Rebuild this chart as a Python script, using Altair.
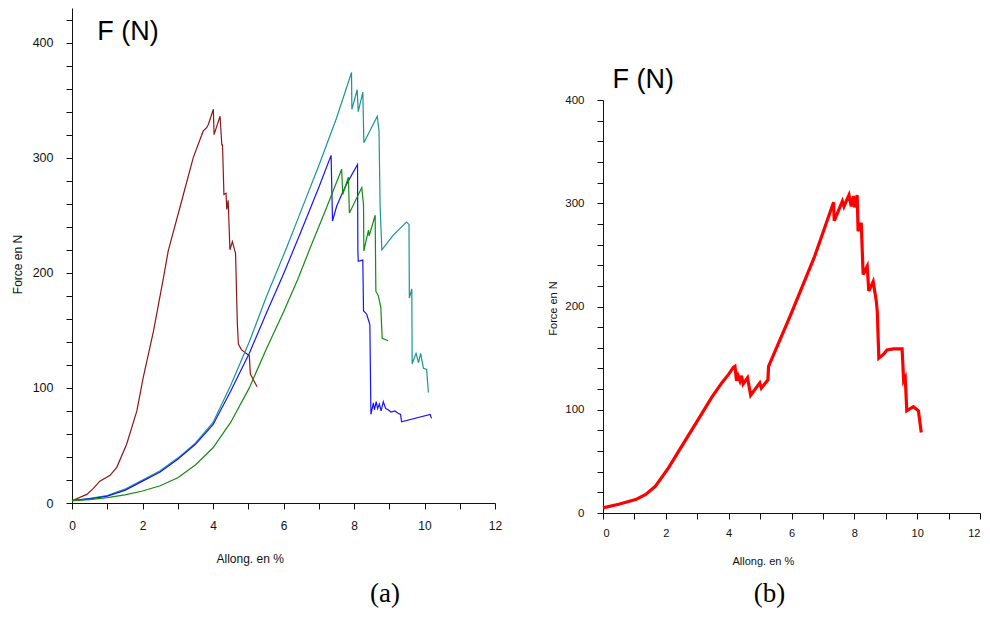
import altair as alt
import pandas as pd

SANS = "Liberation Sans"
SERIF = "Liberation Serif"
INK = "#111111"

# ---------------- panel (a): four specimens ----------------
A1_X = [0, 0.42, 0.6, 0.79, 1.08, 1.27, 1.55, 1.84, 2.02, 2.31, 2.59, 2.73, 3.16, 3.44, 3.72, 3.82, 3.87, 4.01, 4.03, 4.2,
        4.25, 4.27, 4.31, 4.37, 4.39, 4.43, 4.48, 4.55, 4.62, 4.64, 4.69, 4.72, 4.81, 5.03, 5.06, 5.25]
A1_Y = [2, 7.5, 12.5, 19, 24, 31, 51, 80, 109, 149, 195, 219, 268, 300, 323, 326, 329, 342, 320, 336,
        311, 311, 268, 269, 255, 263, 220, 227, 219, 217, 156, 138, 133, 128, 112, 101]

A2_X = [0, 0.5, 1, 1.5, 2, 2.5, 3, 3.5, 4, 4.5, 5.03, 5.5, 6.09, 6.5, 7, 7.5, 7.93, 7.94, 8.09, 8.12,
        8.25, 8.28, 8.66, 8.71, 8.74, 8.79, 9.12, 9.49, 9.56, 9.57, 9.64, 9.65, 9.76, 9.83, 9.89, 9.97, 10.06, 10.11]
A2_Y = [2, 4, 6.5, 12, 20, 28, 39, 52, 70, 102, 140, 178, 222, 254, 293, 334, 374, 342, 359, 340,
        357, 313, 336, 323, 258, 220, 233, 244, 242, 178, 186, 121, 130, 122, 130, 117, 116, 96]

A3_X = [0, 0.5, 1, 1.5, 2, 2.5, 3, 3.5, 4, 4.5, 5.03, 5.5, 6, 6.5, 7, 7.35, 7.39, 7.51, 7.65, 7.79,
        8.1, 8.11, 8.12, 8.25, 8.27, 8.36, 8.45, 8.48, 8.55, 8.58, 8.63, 8.67, 8.72, 8.77, 8.83, 8.9, 8.97, 9.05,
        9.16, 9.25, 9.32, 9.35, 10.16, 10.2]
A3_Y = [2, 3.5, 6, 11, 19, 27, 38, 51, 68, 97, 130, 164, 199, 236, 274, 302, 245, 258, 268, 277,
        294, 219, 210, 211, 167, 164, 155, 77, 87, 81, 88, 82, 86, 80, 88, 82, 81, 79,
        80, 78, 77, 70.5, 77, 73.5]

A4_X = [0, 0.5, 1, 1.5, 2, 2.5, 3, 3.5, 4, 4.5, 5.03, 5.5, 6, 6.4, 6.75, 7.2, 7.65, 7.68, 7.84, 7.87,
        8.22, 8.27, 8.28, 8.41, 8.43, 8.6, 8.62, 8.69, 8.76, 8.8, 8.97]
A4_Y = [2, 3, 4.6, 7, 10.4, 15, 22, 33, 48, 70, 100, 133, 166, 194, 221, 255, 290, 268, 283, 252,
        274, 259, 219, 237, 232, 250, 184, 180, 170, 143, 141]

A_NAMES = ["e1", "e2", "e3", "e4"]
A_COLORS = ["#8e1616", "#1a9494", "#1414ff", "#148a14"]

# ---------------- panel (b): one specimen ----------------
B_X = [0, 0.5, 1.04, 1.36, 1.67, 2.09, 2.41, 2.94, 3.46, 3.78, 3.99, 4.15, 4.2, 4.25, 4.3, 4.36, 4.41, 4.46, 4.6, 4.7,
       4.99, 5.04, 5.25, 5.27, 5.99, 6.73, 7.34, 7.36, 7.62, 7.67, 7.83, 7.9, 7.97, 8.01, 8.09, 8.12, 8.22, 8.28,
       8.41, 8.46, 8.6, 8.7, 8.73, 8.78, 8.94, 9.04, 9.25, 9.52, 9.57, 9.62, 9.67, 9.88, 10.04, 10.13]
B_Y = [5, 8.5, 13, 18, 26, 44, 60, 86, 112, 126, 134, 141, 142, 128, 133, 128, 133, 125, 131, 114,
       126, 121, 129, 142, 193, 248, 301, 283, 302, 297, 308, 297, 307, 296, 308, 273, 281, 231,
       239, 215, 224, 205, 195, 150, 154, 158, 159, 159, 128, 131, 99, 103, 99, 78]

# ---------------- ticks and labels ----------------
X_TICKS = [0, 1, 2, 3, 4, 5, 6, 7, 8, 9, 10, 11, 12]
A_Y_TICKS = [0, 20, 40, 60, 80, 100, 120, 140, 160, 180, 200, 220, 240, 260, 280, 300, 320, 340, 360, 380,
             400, 420]
B_Y_TICKS = [0, 20, 40, 60, 80, 100, 120, 140, 160, 180, 200, 220, 240, 260, 280, 300, 320, 340, 360, 380,
             400]

TITLE_F = "F (N)"
X_TITLE = "Allong. en %"
Y_TITLE = "Force en N"


def series_df(xs, ys, name):
    return pd.DataFrame({"px": xs, "py": ys, "s": name, "o": list(range(len(xs)))})


df_a = pd.concat([series_df(A1_X, A1_Y, A_NAMES[0]), series_df(A2_X, A2_Y, A_NAMES[1]),
                  series_df(A3_X, A3_Y, A_NAMES[2]), series_df(A4_X, A4_Y, A_NAMES[3])],
                 ignore_index=True)
df_b = series_df(B_X, B_Y, "b")


def main_axis(orient, values, step, pad, lsize, title, tx, ty, tsize, flush=False):
    vertical = orient == "left"
    return alt.Axis(orient=orient, values=values, ticks=True, tickColor=INK, tickWidth=1, tickSize=6,
                    labelExpr=f"datum.value % {step} === 0 ? datum.label : ''",
                    domain=True, domainColor=INK, domainWidth=1,
                    labelPadding=pad, labelFontSize=lsize, labelFont=SANS, labelColor=INK,
                    labelFlush=flush, labelOverlap=False, grid=False,
                    title=title, titleX=tx, titleY=ty, titleAngle=270 if vertical else 0,
                    titleAlign="center" if vertical else "left", titleBaseline="middle",
                    titleFont=SANS, titleFontSize=tsize, titleFontWeight="normal", titleColor=INK)


def text_layer(x, y, label, scx, scy, font, size):
    d = pd.DataFrame({"ax": [x], "ay": [y], "t": [label]})
    return alt.Chart(d).mark_text(font=font, fontSize=size, color="#000", align="center",
                                  baseline="middle").encode(
        x=alt.X("ax:Q", scale=scx, axis=None), y=alt.Y("ay:Q", scale=scy, axis=None), text="t:N")


# ---------------- panel (a) chart ----------------
xa = alt.Scale(domain=[0, 12], nice=False, zero=False)
ya = alt.Scale(domain=[0, 430], nice=False)

lines_a = alt.Chart(df_a).mark_line(strokeWidth=1.2).encode(
    x=alt.X("px:Q", scale=xa, axis=main_axis("bottom", X_TICKS, 2, 11, 12, X_TITLE, 144, 55, 12)),
    y=alt.Y("py:Q", scale=ya, axis=main_axis("left", A_Y_TICKS, 100, 13, 12.5, Y_TITLE, -55, 256, 12)),
    color=alt.Color("s:N", scale=alt.Scale(domain=A_NAMES, range=A_COLORS), legend=None),
    order="o:Q",
)
chart_a = alt.layer(
    lines_a,
    text_layer(1.59, 409.5, TITLE_F, xa, ya, SANS, 27),
    text_layer(8.88, -79, "(a)", xa, ya, SERIF, 27),
).resolve_axis(x="independent", y="independent").properties(width=423, height=495)

# ---------------- panel (b) chart ----------------
xb = alt.Scale(domain=[0, 12], nice=False, zero=False)
yb = alt.Scale(domain=[0, 400], range=[505, 92], nice=False)

lines_b = alt.Chart(df_b).mark_line(strokeWidth=3.2, color="#ff0000").encode(
    x=alt.X("px:Q", scale=xb, axis=main_axis("bottom", X_TICKS, 2, 8, 11, X_TITLE, 129, 48, 11, flush=True)),
    y=alt.Y("py:Q", scale=yb, axis=main_axis("left", B_Y_TICKS, 100, 13, 11.5, Y_TITLE, -50, 300, 11)),
    order="o:Q",
)
chart_b = alt.layer(
    lines_b,
    text_layer(1.28, 418.9, TITLE_F, xb, yb, SANS, 27),
    text_layer(5.3, -78.5, "(b)", xb, yb, SERIF, 27),
).resolve_axis(x="independent", y="independent").properties(width=377, height=505)

chart = alt.hconcat(chart_a, chart_b, spacing=45).properties(
    padding={"left": 3, "top": 0, "right": 0, "bottom": 0},
    background="white",
).configure_view(stroke=None)

chart.save("out.html", embed_options={"renderer": "svg", "actions": False})
